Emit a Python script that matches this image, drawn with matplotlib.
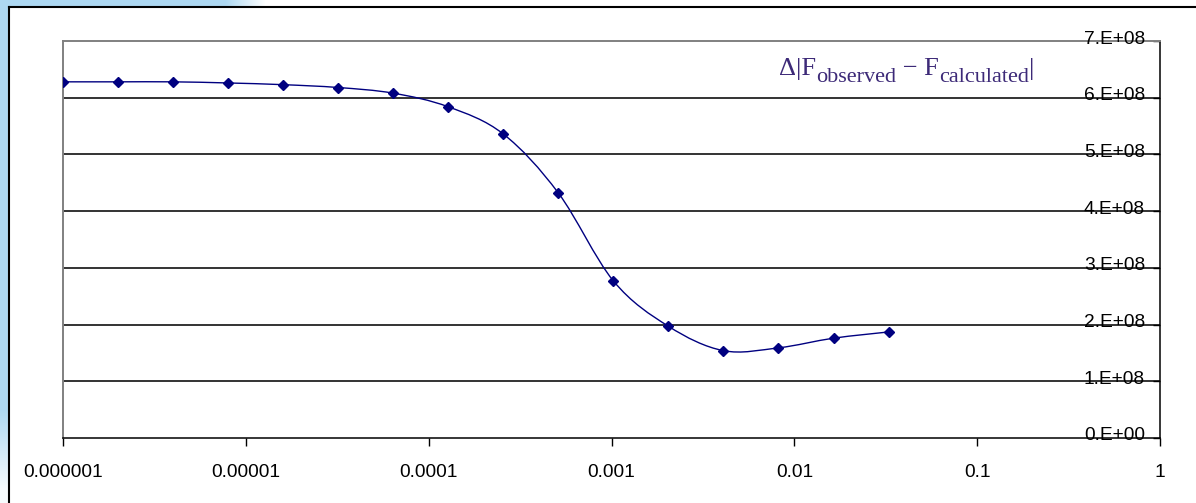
import numpy as np
import matplotlib
matplotlib.use("Agg")
import matplotlib.pyplot as plt
from matplotlib.path import Path
from matplotlib.patches import PathPatch, Rectangle
from matplotlib.ticker import FixedLocator, NullLocator

# ---- data ----
x_values = [1e-6, 2e-6, 4e-6, 8e-6, 1.6e-5, 3.2e-5, 6.4e-5, 1.28e-4, 2.56e-4,
            5.12e-4, 1.024e-3, 2.048e-3, 4.096e-3, 8.192e-3, 1.6384e-2, 3.2768e-2]
y_values = [6.28e8, 6.28e8, 6.28e8, 6.26e8, 6.23e8, 6.18e8, 6.08e8, 5.84e8, 5.36e8,
            4.32e8, 2.77e8, 1.97e8, 1.54e8, 1.59e8, 1.76e8, 1.87e8]
x_ticks = [1e-6, 1e-5, 1e-4, 1e-3, 1e-2, 1e-1, 1]
x_tick_labels = ["0.000001", "0.00001", "0.0001", "0.001", "0.01", "0.1", "1"]
y_ticks = [0, 1e8, 2e8, 3e8, 4e8, 5e8, 6e8, 7e8]
y_tick_labels = ["0.E+00", "1.E+08", "2.E+08", "3.E+08", "4.E+08", "5.E+08", "6.E+08", "7.E+08"]

LBL_FONT = "Liberation Sans"
LBL_SIZE = 13.8

W, H = 1196, 503
fig = plt.figure(figsize=(W / 100, H / 100), dpi=100)
fig.patch.set_facecolor("white")

# ---- background decoration (light blue frame at top-left) ----
bg = fig.add_axes([0, 0, 1, 1], zorder=-5)
bg.set_xlim(0, W)
bg.set_ylim(H, 0)
bg.axis("off")
blue = np.array([0.68, 0.85, 0.95])
grad = np.ones((H, 1, 3))
for r in range(H):
    t = 0.0 if r < 410 else min(1.0, (r - 410) / 80.0) * 0.9
    grad[r, 0, :] = blue * (1 - t) + t
bg.imshow(grad, extent=(0, 9, H, 0), aspect="auto", interpolation="bilinear")
gtop = np.ones((1, 300, 3))
for c in range(300):
    t = 0.0 if c < 225 else min(1.0, (c - 225) / 40.0)
    gtop[0, c, :] = blue * (1 - t) + t
bg.imshow(gtop, extent=(0, 300, 7, 0), aspect="auto", interpolation="bilinear")
bg.add_patch(Rectangle((9, 7), W, H, facecolor="white", edgecolor="none"))
bg.plot([9, 9], [7, H], color="black", lw=1.5)
bg.plot([9, W], [7, 7], color="black", lw=1.5)

# ---- main axes ----
L, R, T, B = 63, 1160, 41, 438
ax = fig.add_axes([L / W, (H - B) / H, (R - L) / W, (B - T) / H])
ax.set_xscale("log")
ax.set_xlim(1e-6, 1)
ax.set_ylim(0, 7e8)
ax.set_facecolor("white")

for s in ["left", "top"]:
    ax.spines[s].set_color("#808080")
    ax.spines[s].set_linewidth(1.4)
ax.spines["bottom"].set_color("black")
ax.spines["right"].set_color("black")
ax.spines["bottom"].set_linewidth(1.1)
ax.spines["right"].set_linewidth(1.1)

for yv in y_ticks[1:-1]:
    ax.axhline(yv, color="#111111", lw=1.2, zorder=1)

ax.xaxis.set_major_locator(FixedLocator(x_ticks))
ax.xaxis.set_minor_locator(NullLocator())
ax.set_xticklabels(x_tick_labels, fontfamily=LBL_FONT, fontsize=LBL_SIZE)
ax.tick_params(axis="x", direction="out", length=6, width=1, pad=13, color="black")

ax.yaxis.tick_right()
ax.yaxis.set_major_locator(FixedLocator(y_ticks))
ax.tick_params(axis="y", direction="in", length=5, width=1, labelright=False,
               labelleft=False, color="black")
for yv, lab in zip(y_ticks, y_tick_labels):
    ax.annotate(lab, xy=(1, yv), xycoords=("axes fraction", "data"),
                xytext=(-15, 2), textcoords="offset pixels", ha="right", va="center",
                fontfamily=LBL_FONT, fontsize=LBL_SIZE, color="black", zorder=5)

# smoothed line (Bezier, Catmull-Rom style) in log-x space
lx = np.log10(np.array(x_values))
yy = np.array(y_values)
n = len(lx)
verts = [(lx[0], yy[0])]
codes = [Path.MOVETO]
for i in range(n - 1):
    p0 = np.array([lx[max(i - 1, 0)], yy[max(i - 1, 0)]])
    p1 = np.array([lx[i], yy[i]])
    p2 = np.array([lx[i + 1], yy[i + 1]])
    p3 = np.array([lx[min(i + 2, n - 1)], yy[min(i + 2, n - 1)]])
    c1 = p1 + (p2 - p0) / 6.0
    c2 = p2 - (p3 - p1) / 6.0
    verts += [tuple(c1), tuple(c2), tuple(p2)]
    codes += [Path.CURVE4] * 3
verts = np.array(verts)
verts[:, 0] = 10 ** verts[:, 0]
ax.add_patch(PathPatch(Path(verts, codes), facecolor="none", edgecolor="#000080",
                       lw=1.0, zorder=3))
ax.plot(x_values, y_values, linestyle="none", marker="D", markersize=5.5,
        color="#000080", zorder=4)

# ---- formula text, built from pieces ----
TCOL = "#3d2a78"
pieces = [("\u0394|F", 19.0, 0), ("observed", 16.0, -7), (" \u2212 F", 19.0, 0),
          ("calculated", 16.0, -7), ("|", 19.0, 0)]
renderer = fig.canvas.get_renderer()
x0 = 779
base_y = H - 75
cur = x0
for txt, fs, dy in pieces:
    t = fig.text(cur / W, (base_y + dy) / H, txt, fontfamily="Liberation Serif",
                 fontsize=fs, color=TCOL, ha="left", va="baseline")
    bb = t.get_window_extent(renderer)
    cur = cur + bb.width

fig.savefig("out.png", dpi=100)
